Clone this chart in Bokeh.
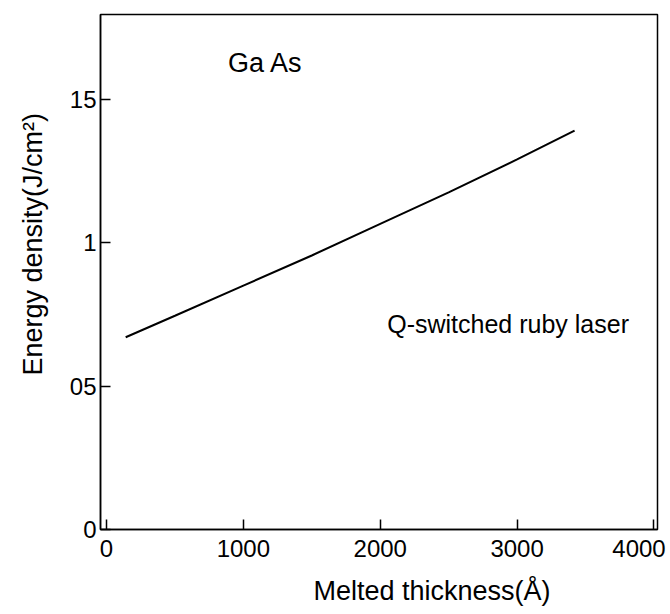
from bokeh.plotting import figure
from bokeh.models import Range1d, Label, FixedTicker, Title
from bokeh.embed import file_html
from bokeh.resources import INLINE

# Data
thickness = [140, 500, 1000, 1500, 2000, 2500, 3000, 3420]
energy = [0.670, 0.745, 0.850, 0.955, 1.065, 1.175, 1.290, 1.390]

x_ticks = [0, 1000, 2000, 3000, 4000]
x_tick_labels = ["0", "1000", "2000", "3000", "4000\u2009"]
y_ticks = [0, 0.5, 1, 1.5]
y_tick_labels = ["0", "05", "1", "15"]

x_title = "Melted thickness(Å)"
y_title = "Energy density(J/cm²)"
material = "Ga As"
laser = "Q-switched ruby laser"

FONT = "Liberation Sans"

p = figure(width=670, height=614, output_backend="svg", toolbar_location=None,
           x_range=Range1d(-44, 4026), y_range=Range1d(0, 1.795),
           min_border_left=97, min_border_right=13, min_border_top=14, min_border_bottom=83)
p.grid.visible = False
p.outline_line_color = "black"
p.outline_line_width = 1.5
p.background_fill_color = "white"
p.border_fill_color = "white"

p.line(thickness, energy, line_color="black", line_width=2)

for ax in (p.xaxis[0], p.yaxis[0]):
    ax.axis_line_color = "black"
    ax.axis_line_width = 1.5
    ax.major_tick_in = 10
    ax.major_tick_out = 0
    ax.major_tick_line_width = 1.5
    ax.minor_tick_line_color = None
    ax.major_label_text_font = FONT
    ax.major_label_text_font_size = "24px"
    ax.major_label_text_color = "black"

p.xaxis[0].ticker = FixedTicker(ticks=x_ticks)
p.xaxis[0].major_label_overrides = {t: l for t, l in zip(x_ticks, x_tick_labels)}
p.xaxis[0].major_label_standoff = 5

p.yaxis[0].ticker = FixedTicker(ticks=y_ticks)
p.yaxis[0].major_label_overrides = {t: l for t, l in zip(y_ticks, y_tick_labels)}
p.yaxis[0].major_label_standoff = 4

p.add_layout(Title(text=x_title, align="left", offset=213, standoff=18,
                   vertical_align="bottom", text_font=FONT, text_font_size="27px",
                   text_font_style="normal", text_color="black"), "below")
p.add_layout(Title(text=y_title, align="left", offset=154, standoff=34,
                   vertical_align="top", text_font=FONT, text_font_size="27px",
                   text_font_style="normal", text_color="black"), "left")

p.add_layout(Label(x=887, y=1.625, text=material, text_font=FONT, text_font_size="27px",
                   text_align="left", text_baseline="middle", text_color="black"))
p.add_layout(Label(x=2051, y=0.715, text=laser, text_font=FONT, text_font_size="25px",
                   text_align="left", text_baseline="middle", text_color="black"))

open("out.html", "w").write(file_html(p, INLINE))
